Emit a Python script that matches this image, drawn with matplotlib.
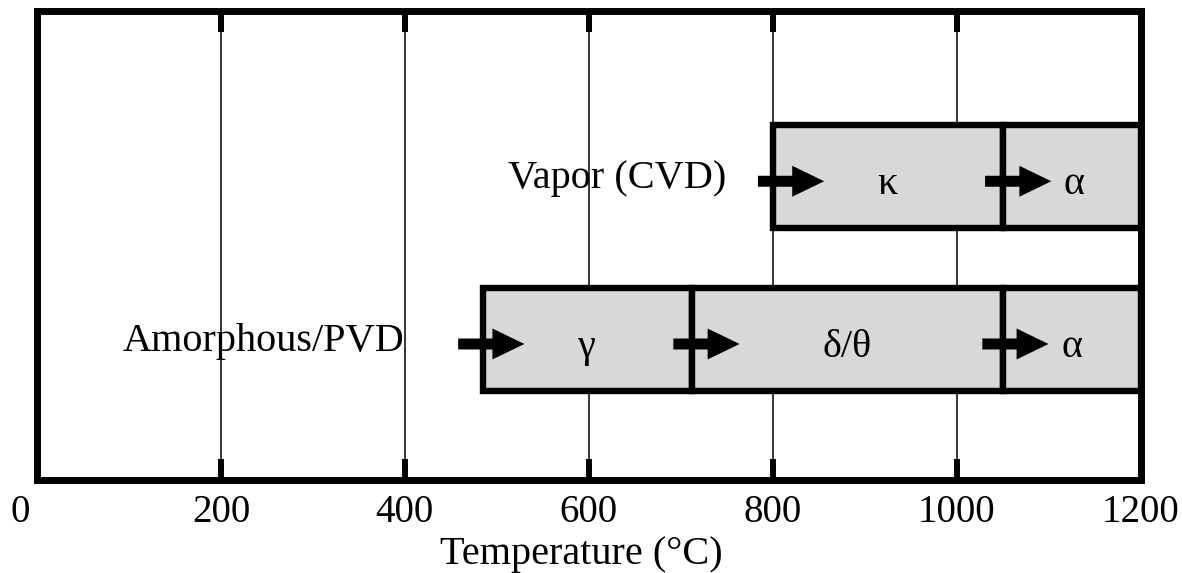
import matplotlib
matplotlib.use("Agg")
import matplotlib.pyplot as plt
import matplotlib.transforms as mtransforms
from matplotlib.patches import Rectangle, FancyArrowPatch

# ---- data ----
rows = ["Amorphous/PVD", "Vapor (CVD)"]
row_y = [0.30, 0.647]
row_label_x = [400, 750]

amorph_starts = [485, 712, 1050]
amorph_ends = [712, 1050, 1200]
amorph_phases = ["γ", "δ/θ", "α"]
amorph_arrow_start = [458, 692, 1028]

vapor_starts = [800, 1050]
vapor_ends = [1050, 1200]
vapor_phases = ["κ", "α"]
vapor_arrow_start = [784, 1031]

xticks = [0, 200, 400, 600, 800, 1000, 1200]
xlabel = "Temperature (°C)"

# ---- style ----
SERIF = ["Liberation Serif", "DejaVu Serif"]
box_h = 0.22
arrow_len = 72
fill = "#d8d8d8"

fig = plt.figure(figsize=(11.82, 5.73), dpi=100)
ax = fig.add_axes([37 / 1182, 1 - 480 / 573, (1140.5 - 37) / 1182, (480 - 11) / 573])
ax.set_xlim(0, 1200)
ax.set_ylim(0, 1)

for s in ax.spines.values():
    s.set_linewidth(5)
ax.set_yticks([])
ax.set_xticks(xticks)
ax.set_xticklabels([str(t) for t in xticks], fontfamily=SERIF, fontsize=28)
ax.tick_params(axis="x", direction="in", top=True, bottom=True, length=15,
               width=4.3, pad=10)

for t in xticks[1:-1]:
    ax.axvline(t, color="black", lw=1.1, zorder=0.5)

segments = [
    (amorph_starts, amorph_ends, amorph_phases, amorph_arrow_start),
    (vapor_starts, vapor_ends, vapor_phases, vapor_arrow_start),
]

for (starts, ends, phases, arr), yc, name, lx in zip(segments, row_y, rows, row_label_x):
    for x0, x1, ph in zip(starts, ends, phases):
        ax.add_patch(Rectangle((x0, yc - box_h / 2), x1 - x0, box_h,
                               facecolor=fill, edgecolor="black", lw=4.6, zorder=2))
    for x0, x1, ph, a0 in zip(starts, ends, phases, arr):
        tx = (x0 + x1) / 2 if ph != "α" else (a0 + arrow_len + 25)
        ax.text(tx, yc - 0.018, ph, ha="center", va="center", fontsize=29,
                fontfamily=SERIF, zorder=4)
        ax.add_patch(FancyArrowPatch((a0, yc - 0.01), (a0 + arrow_len, yc - 0.01),
                                     arrowstyle="simple,head_length=23,head_width=22.3,tail_width=7.9",
                                     mutation_scale=1, shrinkA=0, shrinkB=0,
                                     facecolor="black", edgecolor="none", zorder=3))
    ax.text(lx, yc - 0.005, name, ha="right", va="center", fontsize=29,
            fontfamily=SERIF, zorder=4)

ax.set_xlabel(xlabel, fontfamily=SERIF, fontsize=29, labelpad=4)
ax.xaxis.label.set_x((581 - 37) / 1103.5)

# nudge first tick label left as in the reference
lbl0 = ax.get_xticklabels()[0]
lbl0.set_transform(lbl0.get_transform() + mtransforms.ScaledTranslation(-17 / 100, 0, fig.dpi_scale_trans))

fig.savefig("out.png", dpi=100)
